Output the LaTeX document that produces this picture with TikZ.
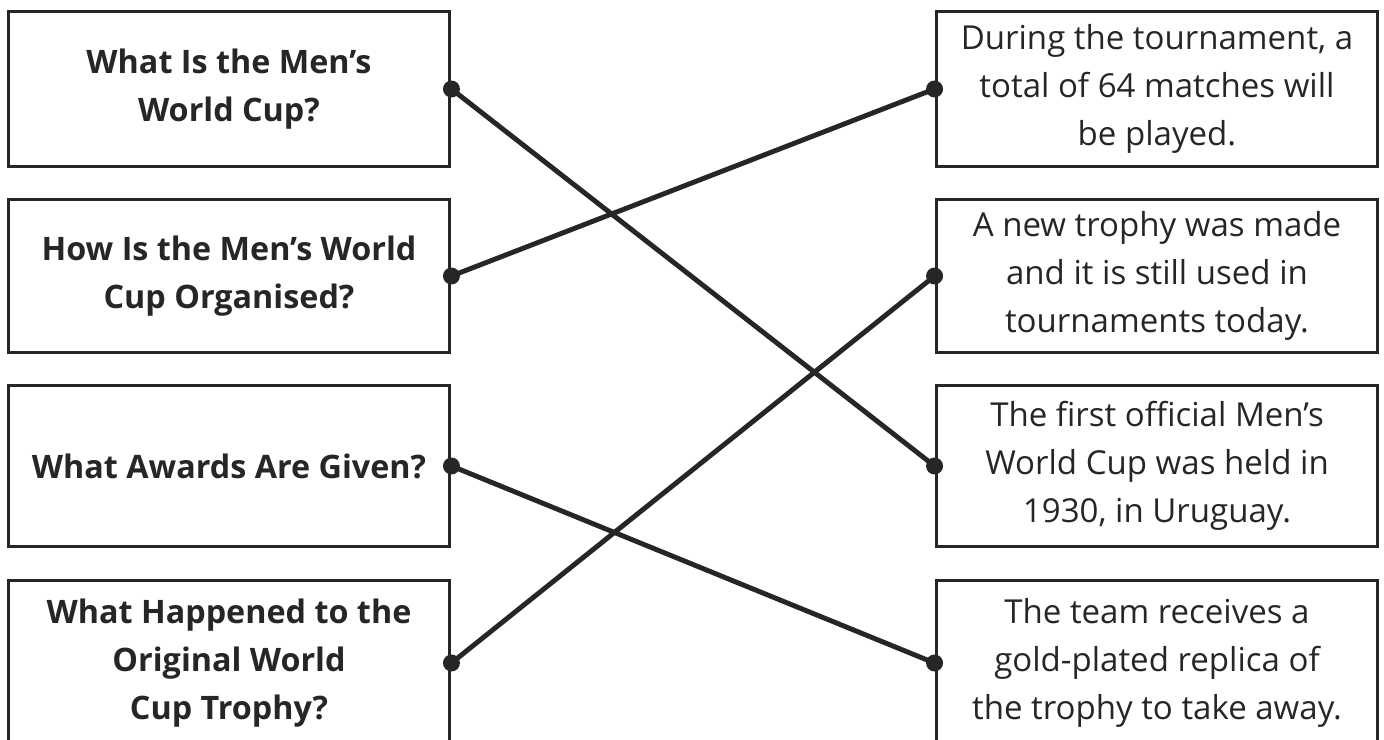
\documentclass[tikz,border=0pt]{standalone}
\usepackage{fontspec}
\setmainfont{Open Sans}
\usetikzlibrary{positioning}
\definecolor{ink}{HTML}{262626}

\begin{document}
\begin{tikzpicture}[x=0.02cm, y=-0.02cm,
    question/.style={draw=ink, line width=1.7pt, minimum width=8.84cm, minimum height=3.12cm,
        align=center, inner sep=0pt, text=ink, font=\fontsize{18.4}{27.3}\selectfont\bfseries},
    answer/.style={question, font=\fontsize{18.8}{27.3}\selectfont},
    link/.style={ink, line width=2.8pt}]
    \useasboundingbox (0, 0) rectangle (1384, 740);
    % questions on the left
    \node[question] (q1) at (229, 89) {What Is the Men’s\\World Cup?};
    \node[question, minimum height=3.06cm] (q2) at (229, 276) {How Is the Men’s World\\Cup Organised?};
    \node[question, minimum height=3.24cm] (q3) at (229, 466) {What Awards Are Given?};
    \node[question, minimum height=3.32cm] (q4) at (229, 663) {What Happened to the\\Original World\\Cup Trophy?};
    % answers on the right
    \node[answer] (a1) at (1157, 89) {During the tournament, a\\total of 64 matches will\\be played.};
    \node[answer, minimum height=3.06cm] (a2) at (1157, 276) {A new trophy was made\\and it is still used in\\tournaments today.};
    \node[answer, minimum height=3.24cm] (a3) at (1157, 466) {The first official Men’s\\World Cup was held in\\1930, in Uruguay.};
    \node[answer, minimum height=3.32cm] (a4) at (1157, 663) {The team receives a\\gold-plated replica of\\the trophy to take away.};
    % matching lines
    \draw[link] (q1.east) -- (a3.west);
    \draw[link] (q2.east) -- (a1.west);
    \draw[link] (q3.east) -- (a4.west);
    \draw[link] (q4.east) -- (a2.west);
    \foreach \n in {q1, q2, q3, q4}
        \fill[ink] (\n.east) circle (0.17cm);
    \foreach \n in {a1, a2, a3, a4}
        \fill[ink] (\n.west) circle (0.17cm);
\end{tikzpicture}
\end{document}
